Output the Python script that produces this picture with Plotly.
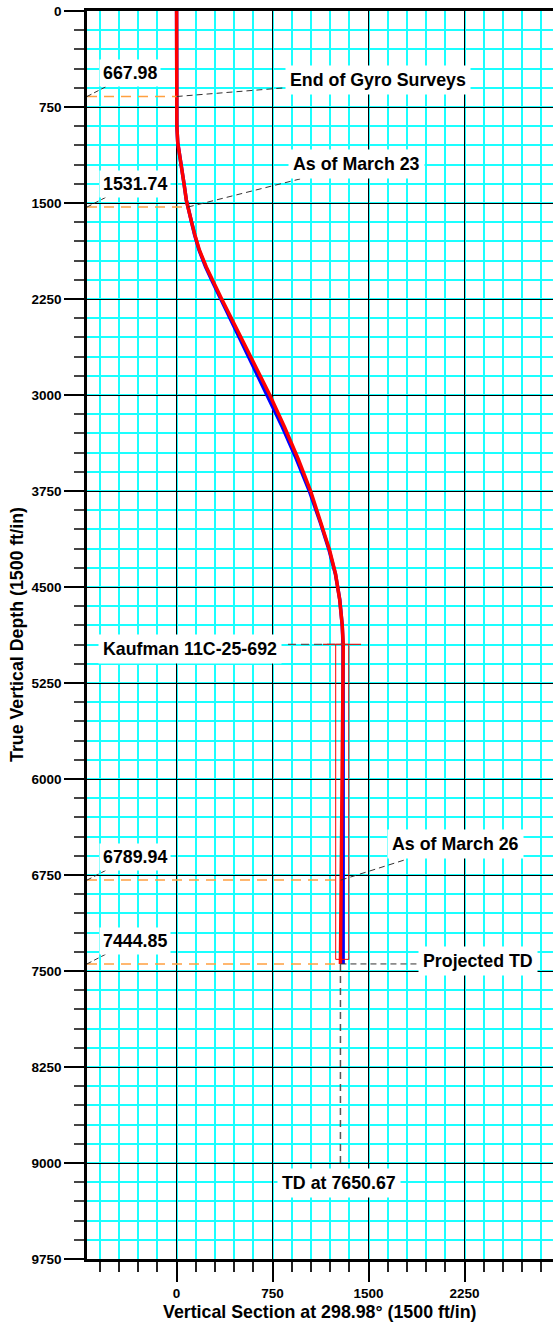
import numpy as np
import plotly.graph_objects as go

# ---------------- data ----------------
tvd_plan = [0, 600, 900, 1030, 1216, 1350, 1477, 1532, 1650, 1750, 1867, 2000, 2125, 2250,
            2500, 2750, 3000, 3250, 3500, 3750, 4000, 4211, 4400, 4600, 4800, 4948,
            5400, 6000, 6500, 6790, 7445]
vs_plan = [0, 0, 2, 9, 40, 58, 76, 88, 117, 143, 178, 232, 291, 352,
           478, 604, 728, 843, 950, 1047, 1130, 1195, 1242, 1274, 1294, 1302,
           1298, 1292, 1286, 1283, 1280]

tvd_actual = [0, 600, 900, 1030, 1216, 1350, 1477, 1532, 1650, 1750, 1867, 2000, 2125, 2250,
              2500, 2750, 3000, 3250, 3500, 3750, 4000, 4211, 4400, 4600, 4800, 4948,
              5400, 6000, 6500, 6790, 7445]
vs_actual = [0, 0, 2, 9, 40, 58, 76, 88, 116, 141, 175, 227, 285, 345,
             466, 588, 710, 826, 936, 1037, 1124, 1191, 1241, 1275, 1294, 1300,
             1301, 1301, 1301, 1301, 1301]

marker_depths = [667.98, 1531.74, 6789.94, 7444.85]
marker_labels = ["667.98", "1531.74", "6789.94", "7444.85"]

callout_texts = ["End of Gyro Surveys", "As of March 23", "As of March 26", "Projected TD"]
callout_depths = [667.98, 1531.74, 6789.94, 7444.85]

target_name = "Kaufman 11C-25-692"
target_tvd = [4948, 7409]
target_vs = [1243, 1345]
target_line_vs = [1144, 1441]

td_md = 7650.67
projected_td_tvd = 7444.85

x_ticks = [0, 750, 1500, 2250]
y_ticks = list(range(0, 9751, 750))

# ---------------- layout constants ----------------
FIG_W, FIG_H = 553, 1327
M_L, M_T, M_B, M_R = 87, 11, 68, 0
PLOT_W = FIG_W - M_L - M_R
PLOT_H = FIG_H - M_T - M_B
X_MIN = -700
PX_PER_FT = PLOT_H / 9750
X_MAX = X_MIN + PLOT_W / PX_PER_FT
FONT = "Liberation Sans, Arial, sans-serif"
LBL = dict(family=FONT, size=17.8, color="black", weight="bold")
DASH_BLK = "6px,4px"
CYAN = "#1AFFFF"

# callout label placement (label centre, leader end) in axis units
callout_label_pos = [(1573, 539), (1407, 1195), (2176, 6508), (2355, 7419)]
callout_leader_end = [(860, 599), (965, 1312), (1798, 6627), (1886, 7444.85)]

fig = go.Figure()

fig.add_trace(go.Scatter(x=vs_actual, y=tvd_actual, mode="lines",
                         line=dict(color="#0000FF", width=3.5), hoverinfo="skip"))
fig.add_trace(go.Scatter(x=vs_plan, y=tvd_plan, mode="lines",
                         line=dict(color="#FF0000", width=3.5), hoverinfo="skip"))

shapes = []
annotations = []

def traj_vs(d):
    return float(np.interp(d, tvd_plan, vs_plan))

# orange depth lines + value labels
for d, lab in zip(marker_depths, marker_labels):
    shapes.append(dict(type="line", xref="x", yref="y", x0=X_MIN, x1=traj_vs(d), y0=d, y1=d,
                       line=dict(color="#FFA040", width=1.5, dash="10px,7px"), layer="above"))
    shapes.append(dict(type="line", xref="x", yref="y", x0=X_MIN, x1=X_MIN + 145, y0=d, y1=d - 75,
                       line=dict(color="#333333", width=1, dash="5px,3px"), layer="above"))
    annotations.append(dict(x=X_MIN + 95, y=d - 182, xref="x", yref="y", text=lab,
                            showarrow=False, xanchor="left", yanchor="middle",
                            font=LBL, bgcolor="white", borderpad=3))

# callouts
for txt, d, (lx, ly), (ex, ey) in zip(callout_texts, callout_depths, callout_label_pos, callout_leader_end):
    shapes.append(dict(type="line", xref="x", yref="y", x0=traj_vs(d), y0=d, x1=ex, y1=ey,
                       line=dict(color="#333333", width=1, dash=DASH_BLK), layer="above"))
    annotations.append(dict(x=lx, y=ly, xref="x", yref="y", text=txt, showarrow=False,
                            xanchor="center", yanchor="middle", font=LBL,
                            bgcolor="white", borderpad=4))

# target
shapes.append(dict(type="line", xref="x", yref="y", x0=870, x1=traj_vs(target_tvd[0]),
                   y0=target_tvd[0], y1=target_tvd[0],
                   line=dict(color="#555555", width=1.2, dash="8px,5px"), layer="above"))
shapes.append(dict(type="rect", xref="x", yref="y", x0=target_vs[0], x1=target_vs[1],
                   y0=target_tvd[0], y1=target_tvd[1],
                   line=dict(color="#FF0000", width=1), fillcolor="rgba(0,0,0,0)", layer="above"))
shapes.append(dict(type="line", xref="x", yref="y", x0=target_line_vs[0], x1=target_line_vs[1],
                   y0=target_tvd[0], y1=target_tvd[0],
                   line=dict(color="#CC2222", width=1.2), layer="above"))
annotations.append(dict(x=101, y=target_tvd[0] + 40, xref="x", yref="y", text=target_name,
                        showarrow=False, xanchor="center", yanchor="middle", font=LBL,
                        bgcolor="white", borderpad=4))

# TD
td_vs = traj_vs(projected_td_tvd)
shapes.append(dict(type="line", xref="x", yref="y", x0=td_vs, x1=td_vs,
                   y0=projected_td_tvd, y1=9020,
                   line=dict(color="#555555", width=1.5, dash="7px,5px"), layer="above"))
annotations.append(dict(x=td_vs - 10, y=9156, xref="x", yref="y", text=f"TD at {td_md:.2f}",
                        showarrow=False, xanchor="center", yanchor="middle", font=LBL,
                        bgcolor="white", borderpad=4))

# axis titles
annotations.append(dict(x=(320 - M_L) / PLOT_W, y=-53 / PLOT_H, xref="paper", yref="paper",
                        text="Vertical Section at 298.98° (1500 ft/in)", showarrow=False,
                        xanchor="center", yanchor="middle", font=LBL))
annotations.append(dict(x=(17 - M_L) / PLOT_W, y=0.5, xref="paper", yref="paper",
                        text="True Vertical Depth (1500 ft/in)", showarrow=False, textangle=-90,
                        xanchor="center", yanchor="middle", font=LBL))

tickfont = dict(family=FONT, size=13.5, color="black", weight="bold")
fig.update_layout(
    width=FIG_W, height=FIG_H,
    margin=dict(l=M_L, r=M_R, t=M_T, b=M_B, autoexpand=False),
    plot_bgcolor="white", paper_bgcolor="white",
    showlegend=False,
    shapes=shapes, annotations=annotations,
    xaxis=dict(range=[X_MIN, X_MAX], tickvals=x_ticks, ticks="outside", ticklen=20,
               tickwidth=2, tickcolor="black", tickfont=tickfont, ticklabelstandoff=0,
               showgrid=True, gridcolor="black", gridwidth=1, zeroline=False,
               showline=True, linecolor="black", linewidth=2.5, mirror=True,
               minor=dict(dtick=150, tick0=0, ticks="outside", ticklen=10, tickwidth=1.5,
                          tickcolor="#222222", showgrid=True, gridcolor=CYAN, gridwidth=1.5)),
    yaxis=dict(range=[9750, 0], tickvals=y_ticks, ticks="outside", ticklen=20,
               tickwidth=2, tickcolor="black", tickfont=tickfont, ticklabeloverflow="allow",
               showgrid=True, gridcolor="black", gridwidth=1, zeroline=False,
               showline=True, linecolor="black", linewidth=2.5, mirror=False,
               minor=dict(dtick=150, tick0=0, ticks="outside", ticklen=10, tickwidth=1.5,
                          tickcolor="#444444", showgrid=True, gridcolor=CYAN, gridwidth=1.5)),
)

fig.write_html("out.html", config={"displayModeBar": False},
               post_script="document.body.style.margin='0';document.body.style.overflow='hidden';")
